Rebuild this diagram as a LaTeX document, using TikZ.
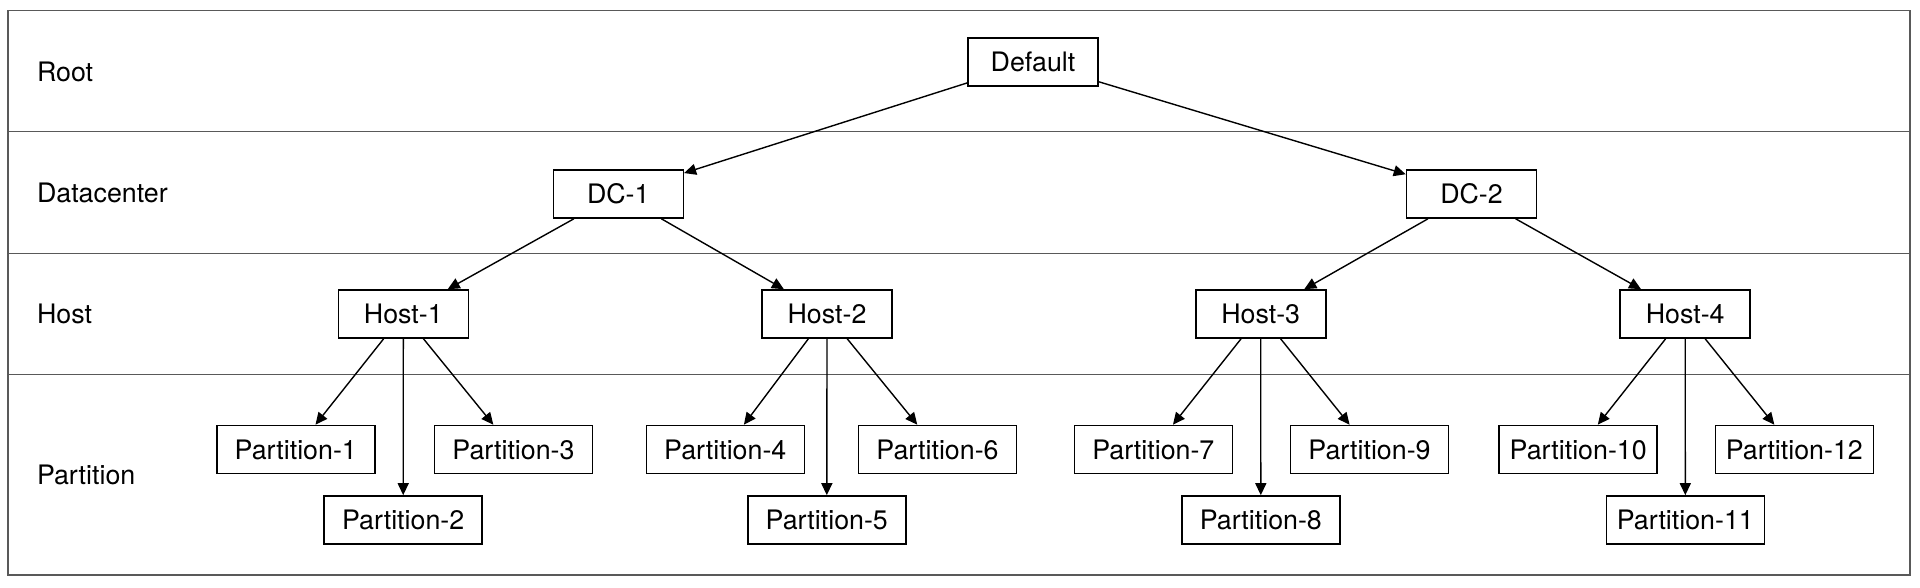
\documentclass[tikz,border=0pt]{standalone}
\usepackage{fontspec}
\setmainfont{TeX Gyre Heros}
\usetikzlibrary{arrows.meta}
\newcommand{\labsize}{\fontsize{13.4}{16}\selectfont}
\tikzset{
  boxnode/.style={draw, line width=0.8pt, minimum width=65pt, minimum height=24pt, inner sep=0pt, font=\labsize},
  partnode/.style={boxnode, minimum width=79pt},
  rowlabel/.style={anchor=west, inner sep=0pt, font=\labsize},
  link/.style={line width=0.7pt, -{Triangle[length=6pt,width=5.5pt]}},
  sep/.style={draw=black!65, line width=0.6pt}
}
\begin{document}
\begin{tikzpicture}[x=0.5pt,y=-0.5pt]
\useasboundingbox (0,0) rectangle (1920,588);
% frame and rows
\draw[sep, line width=0.75pt] (8,10.3) rectangle (1910,575);
\draw[sep] (8,131.7) -- (1910,131.7);
\draw[sep] (8,253.3) -- (1910,253.3);
\draw[sep] (8,374.7) -- (1910,374.7);
% row labels
\node[rowlabel] (lroot) at (36.6,71.5) {Root};
\node[rowlabel] (ldc) at (36.6,193) {Datacenter};
\node[rowlabel] (lhost) at (36.6,314) {Host};
\node[rowlabel] (lpart) at (36.6,474.5) {Partition};
% nodes
\node[boxnode] (def) at (1033,62) {Default};
\node[boxnode] (dc1) at (618.3,194) {DC-1};
\node[boxnode] (dc2) at (1471.5,194) {DC-2};
\node[boxnode] (h1) at (403.3,314) {Host-1};
\node[boxnode] (h2) at (827,314) {Host-2};
\node[boxnode] (h3) at (1260.7,314) {Host-3};
\node[boxnode] (h4) at (1685.2,314) {Host-4};
\node[partnode] (p1) at (295.8,449.5) {Partition-1};
\node[partnode] (p2) at (403.2,520) {Partition-2};
\node[partnode] (p3) at (513.5,449.5) {Partition-3};
\node[partnode] (p4) at (725.3,449.5) {Partition-4};
\node[partnode] (p5) at (826.8,520) {Partition-5};
\node[partnode] (p6) at (937.5,449.5) {Partition-6};
\node[partnode] (p7) at (1153.3,449.5) {Partition-7};
\node[partnode] (p8) at (1260.8,520) {Partition-8};
\node[partnode] (p9) at (1369.5,449.5) {Partition-9};
\node[partnode] (p10) at (1578.2,449.5) {Partition-10};
\node[partnode] (p11) at (1685.3,520) {Partition-11};
\node[partnode] (p12) at (1794.3,449.5) {Partition-12};
% links
\draw[link] (def) -- (dc1);
\draw[link] (def) -- (dc2);
\draw[link] (dc1) -- (h1);
\draw[link] (dc1) -- (h2);
\draw[link] (dc2) -- (h3);
\draw[link] (dc2) -- (h4);
\draw[link] (h1) -- (p1);
\draw[link] (h1.south) -- (p2.north);
\draw[link] (h1) -- (p3);
\draw[link] (h2) -- (p4);
\draw[link] (h2.south) -- (p5.north);
\draw[link] (h2) -- (p6);
\draw[link] (h3) -- (p7);
\draw[link] (h3.south) -- (p8.north);
\draw[link] (h3) -- (p9);
\draw[link] (h4) -- (p10);
\draw[link] (h4.south) -- (p11.north);
\draw[link] (h4) -- (p12);
\end{tikzpicture}
\end{document}
